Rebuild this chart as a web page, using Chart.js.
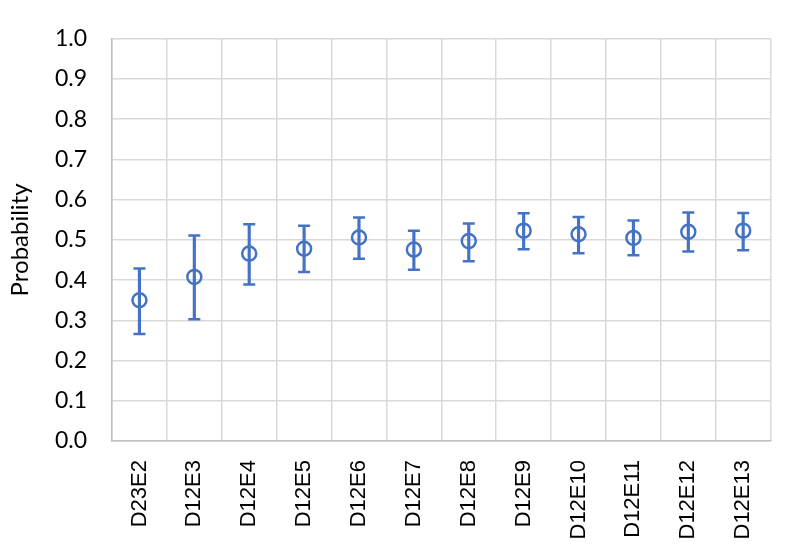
<!DOCTYPE html>
<html>
<head>
<meta charset="utf-8">
<script src="https://cdn.jsdelivr.net/npm/chart.js@4"></script>
<style>
  html, body { margin: 0; padding: 0; background: #fff; }
  #wrap { width: 789px; height: 551px; }
</style>
</head>
<body>
<div id="wrap"><canvas id="probChart" width="789" height="551"></canvas></div>
<script>
const categories = ['D23E2', 'D12E3', 'D12E4', 'D12E5', 'D12E6', 'D12E7', 'D12E8', 'D12E9', 'D12E10', 'D12E11', 'D12E12', 'D12E13'];
const means = [0.350, 0.408, 0.466, 0.478, 0.506, 0.476, 0.497, 0.523, 0.514, 0.505, 0.520, 0.523];
const upper = [0.429, 0.511, 0.539, 0.535, 0.556, 0.523, 0.541, 0.566, 0.557, 0.548, 0.568, 0.567];
const lower = [0.266, 0.303, 0.389, 0.420, 0.453, 0.426, 0.447, 0.477, 0.467, 0.462, 0.471, 0.474];
const yTicks = [0.0, 0.1, 0.2, 0.3, 0.4, 0.5, 0.6, 0.7, 0.8, 0.9, 1.0];

const blue = '#4472C4';

// error bar stems as thin floating bars
const ranges = lower.map((lo, i) => [lo, upper[i]]);

const ctx = document.getElementById('probChart').getContext('2d');
new Chart(ctx, {
  data: {
    labels: categories,
    datasets: [
      {
        type: 'line',
        label: 'Probability',
        data: means,
        showLine: false,
        pointStyle: 'circle',
        pointRadius: 7,
        pointBorderWidth: 2.5,
        pointBackgroundColor: 'rgba(0,0,0,0)',
        pointBorderColor: blue,
        order: 0
      },
      {
        type: 'bar',
        label: 'range',
        data: ranges,
        backgroundColor: blue,
        barThickness: 2.5,
        order: 1
      },
      {
        type: 'line',
        label: 'upper',
        data: upper,
        showLine: false,
        pointStyle: 'line',
        pointRadius: 6,
        pointBorderWidth: 2.5,
        pointBorderColor: blue,
        order: 1
      },
      {
        type: 'line',
        label: 'lower',
        data: lower,
        showLine: false,
        pointStyle: 'line',
        pointRadius: 6,
        pointBorderWidth: 2.5,
        pointBorderColor: blue,
        order: 1
      }
    ]
  },
  options: {
    responsive: false,
    animation: false,
    layout: { padding: { top: 35, right: 8, left: 0, bottom: 0 } },
    plugins: {
      legend: { display: false },
      tooltip: { enabled: false }
    },
    scales: {
      x: {
        type: 'category',
        offset: true,
        grid: { offset: true, color: '#d9d9d9', lineWidth: 1.5, drawTicks: false },
        border: { color: '#bfbfbf', width: 1.5 },
        ticks: {
          color: '#000',
          font: { family: '"Liberation Sans", Arial, sans-serif', size: 22 },
          maxRotation: 90,
          minRotation: 90,
          padding: 19,
          autoSkip: false
        },
        afterFit: (scale) => { scale.height = 110; }
      },
      y: {
        min: 0,
        max: 1,
        afterBuildTicks: (scale) => { scale.ticks = yTicks.map(v => ({ value: v })); },
        grid: { color: '#d9d9d9', lineWidth: 1.5, drawTicks: false },
        border: { color: '#bfbfbf', width: 1.5 },
        ticks: {
          color: '#000',
          font: { family: 'Lato, "Open Sans", sans-serif', size: 23 },
          padding: 25,
          callback: (v) => Number(v).toFixed(1)
        },
        title: {
          display: true,
          text: 'Probability',
          color: '#000',
          font: { family: 'Lato, "Open Sans", sans-serif', size: 24 },
          padding: { top: 6, bottom: 0 }
        },
        afterFit: (scale) => { scale.width = 112; }
      }
    }
  }
});
</script>
</body>
</html>
